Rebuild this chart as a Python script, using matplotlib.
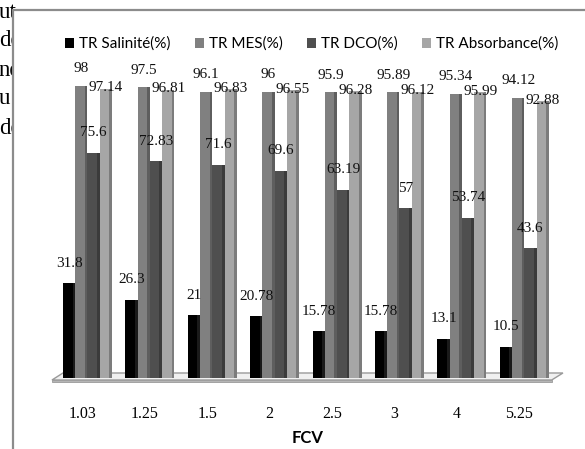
import numpy as np
import matplotlib
matplotlib.use('Agg')
import matplotlib.pyplot as plt
from matplotlib.patches import Patch

# data
fcv = ['1.03', '1.25', '1.5', '2', '2.5', '3', '4', '5.25']
salinite = [31.8, 26.3, 21, 20.78, 15.78, 15.78, 13.1, 10.5]
mes = [98, 97.5, 96.1, 96, 95.9, 95.89, 95.34, 94.12]
dco = [75.6, 72.83, 71.6, 69.6, 63.19, 57, 53.74, 43.6]
absorbance = [97.14, 96.81, 96.83, 96.55, 96.28, 96.12, 95.99, 92.88]
names = ['TR Salinité(%)', 'TR MES(%)', 'TR DCO(%)', 'TR Absorbance(%)']

# fragments of the page text cut by the chart frame
side_text = ['ut', 'de', 'ne', 'u', 'de']

W, H = 585, 449
fig = plt.figure(figsize=(W/100, H/100), dpi=100)

def px(x0, y0, x1, y1):
    # pixel box (top-left origin) -> figure fraction rect
    return [x0/W, 1 - y1/H, (x1 - x0)/W, (y1 - y0)/H]

for i, t in enumerate(side_text):
    fig.text(-1/W, 1 - (12 + 29*i)/H, t, ha='left', va='center',
             family='Liberation Serif', fontsize=16.5, zorder=-1)

# chart frame (covers the cut text)
bg = fig.add_axes(px(13, 10, W, H), zorder=0)
bg.set_facecolor('white')
for s in ['right', 'bottom']:
    bg.spines[s].set_visible(False)
for s in ['left', 'top']:
    bg.spines[s].set_color('#8c8c8c')
    bg.spines[s].set_linewidth(1.6)
bg.set_xticks([])
bg.set_yticks([])

ax = fig.add_axes(px(40, 80, 575, 378), zorder=1)
ax.set_facecolor('none')
for s in ax.spines.values():
    s.set_visible(False)
ax.set_ylim(0, 100)
ax.set_xlim(-0.761, 7.813)
ax.set_yticks([])

# floor of the 3d chart
fx = np.array([-0.569, -0.393, 7.62, 7.44])
fy = np.array([-0.67, 1.68, 1.68, -0.67])
ax.fill(fx, fy, facecolor='#f0f0f0', edgecolor='#9a9a9a', lw=1.0, zorder=1, clip_on=False)
ax.fill([-0.569, 7.44, 7.44, -0.569], [-0.67, -0.67, -1.3, -1.3],
        facecolor='#b5b5b5', edgecolor='#9a9a9a', lw=0.6, zorder=1, clip_on=False)

series = [salinite, mes, dco, absorbance]
fronts = ['#000000', '#808080', '#4f4f4f', '#a6a6a6']
sides = ['#1a1a1a', '#5e5e5e', '#3b3b3b', '#7c7c7c']
lab_dy = [6.7, 5.7, 6.7, 0.3]

x = np.arange(len(fcv))
pitch = 0.196
wf = 0.152
ws = 0.044
for j, vals in enumerate(series):
    left = x - 2*pitch + j*pitch
    ax.bar(left, vals, width=wf, align='edge', color=fronts[j], zorder=2 + j*0.1)
    ax.bar(left + wf, vals, width=ws, align='edge', color=sides[j], zorder=2 + j*0.1)
    for xi, v in zip(left + (wf + ws)/2, vals):
        ax.text(xi, v + lab_dy[j], f'{v:g}', ha='center', va='center',
                family='Liberation Serif', fontsize=11, color='#111111',
                zorder=5, clip_on=False)

ax.set_xticks(x - 0.08)
ax.set_xticklabels(fcv, family='Liberation Serif', fontsize=11.5)
ax.tick_params(axis='x', length=0, pad=20)
ax.set_xlabel('FCV', family='Lato', fontweight='bold', fontsize=12, labelpad=6)

handles = [Patch(facecolor=c) for c in fronts]
fig.legend(handles, names, loc='center left', bbox_to_anchor=(59/W, 1 - 44/H),
           ncol=4, frameon=False, prop={'family': 'Lato', 'size': 11},
           handlelength=0.6, handleheight=0.6, handletextpad=0.3,
           columnspacing=1.6, borderaxespad=0)

fig.savefig('out.png', dpi=100)
